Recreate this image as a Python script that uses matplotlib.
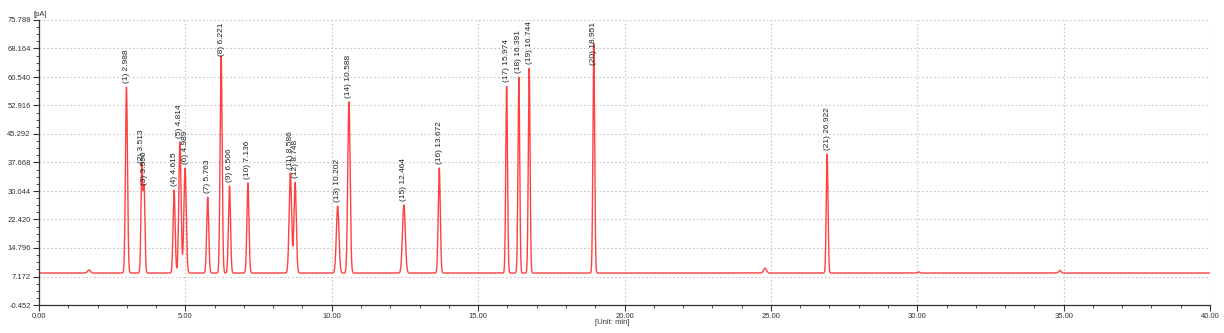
import numpy as np
import matplotlib
matplotlib.use("Agg")
import matplotlib.pyplot as plt
from matplotlib.ticker import MultipleLocator, FixedLocator, FuncFormatter

# ---- data: peak table ----
peak_ids = list(range(1, 22))
peak_times = [2.988, 3.513, 3.590, 4.615, 4.814, 4.989, 5.763, 6.221, 6.506, 7.136,
              8.586, 8.748, 10.202, 10.588, 12.464, 13.672, 15.974, 16.391, 16.744,
              18.951, 26.922]
peak_heights = [57.8, 36.5, 30.6, 30.3, 43.2, 36.2, 28.4, 66.2, 31.4, 32.2,
                34.9, 32.3, 26.0, 53.9, 26.3, 36.2, 58.1, 60.5, 62.9, 69.5, 39.9]
peak_sigmas = [0.035, 0.030, 0.030, 0.035, 0.038, 0.040, 0.035, 0.035, 0.035, 0.035,
               0.042, 0.040, 0.045, 0.040, 0.048, 0.035, 0.030, 0.030, 0.030, 0.030, 0.030]
# minor unlabelled baseline disturbances
minor_times = [1.71, 24.80, 30.05, 34.87]
minor_heights = [0.8, 1.3, 0.3, 0.7]
minor_sigmas = [0.05, 0.05, 0.04, 0.04]
baseline = 8.1

y_ticks = [-0.452, 7.172, 14.796, 22.420, 30.044, 37.668, 45.292, 52.916, 60.540, 68.164, 75.788]
x_ticks = [0, 5, 10, 15, 20, 25, 30, 35, 40]

# ---- trace built from the peak table ----
t = np.linspace(0, 40, 16001)
signal = np.full_like(t, baseline)
for tm, h, s in zip(peak_times, peak_heights, peak_sigmas):
    signal += (h - baseline) * np.exp(-0.5 * ((t - tm) / s) ** 2)
for tm, h, s in zip(minor_times, minor_heights, minor_sigmas):
    signal += h * np.exp(-0.5 * ((t - tm) / s) ** 2)

plt.rcParams['font.family'] = ['Liberation Sans', 'DejaVu Sans']

fig = plt.figure(figsize=(12.24, 3.33), dpi=100)
ax = fig.add_axes([39 / 1224, 1 - 305 / 333, (1210 - 39) / 1224, (305 - 20) / 333])

ax.plot(t, signal, color='#ff2020', lw=1.0, alpha=0.85)

ax.set_xlim(0, 40)
ax.set_ylim(y_ticks[0], y_ticks[-1])
ax.yaxis.set_major_locator(FixedLocator(y_ticks))
ax.yaxis.set_major_formatter(FuncFormatter(lambda v, p: f"{v:.3f}"))
ax.yaxis.set_minor_locator(FixedLocator(np.arange(y_ticks[0], y_ticks[-1], 7.624 / 4)))
ax.xaxis.set_major_locator(FixedLocator(x_ticks))
ax.xaxis.set_major_formatter(FuncFormatter(lambda v, p: f"{v:.2f}"))
ax.xaxis.set_minor_locator(MultipleLocator(1))

ax.tick_params(axis='both', which='major', labelsize=5.5, length=4, width=0.8,
               color='#333333', labelcolor='#333333', pad=2)
ax.tick_params(axis='both', which='minor', length=2.5, width=0.6, color='#333333')

for side in ('top', 'right'):
    ax.spines[side].set_visible(False)
for side in ('left', 'bottom'):
    ax.spines[side].set_color('#333333')
    ax.spines[side].set_linewidth(0.9)

ax.grid(True, which='major', color='#c8c8c8', linestyle=(0, (1.5, 2)), linewidth=0.8)
ax.set_axisbelow(True)

fig.text(33 / 1224, 1 - 14 / 333, "[pA]", fontsize=5.5, color='#333333', va='center', ha='left')
fig.text(612 / 1224, 1 - 323 / 333, "[Unit: min]", fontsize=5.5, color='#333333', va='center', ha='center')

labels = []
for pid, tm, h in zip(peak_ids, peak_times, peak_heights):
    ann = ax.annotate(f"({pid}) {tm:.3f}", xy=(tm, h), xytext=(0, 3), textcoords='offset points',
                      rotation=90, ha='center', va='bottom', fontsize=6, color='#222222')
    labels.append((ann, tm))

fig.canvas.draw()
renderer = fig.canvas.get_renderer()
ax_top = ax.get_window_extent(renderer).y1
for ann, tm in labels:
    bb = ann.get_window_extent(renderer)
    if bb.y1 > ax_top - 1:
        ann.xy = (tm, y_ticks[-1])
        ann.set_position((0, -1.5))
        ann.set_va('top')

fig.savefig("out.png", dpi=100)
